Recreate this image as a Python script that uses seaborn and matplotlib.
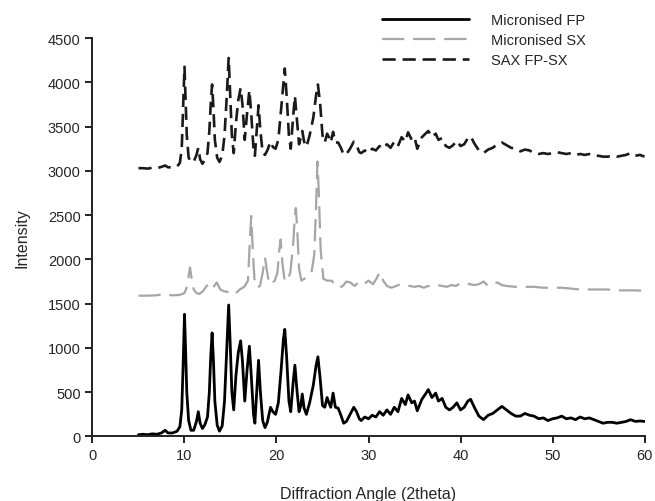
# X-ray diffraction patterns: micronised FP, micronised SX and SAX FP-SX
import seaborn as sns
import matplotlib.pyplot as plt

# 2theta positions shared by the FP and SAX traces
two_theta = [5.0, 5.5, 6.0, 6.5, 7.0, 7.5, 7.9, 8.2, 8.7, 9.2,
             9.5, 9.7, 9.85, 10.0, 10.1, 10.25, 10.45, 10.7, 11.0, 11.3,
             11.5, 11.7, 11.95, 12.2, 12.5, 12.7, 12.85, 13.0, 13.15, 13.3,
             13.55, 13.8, 14.1, 14.35, 14.6, 14.8, 14.95, 15.15, 15.35, 15.6,
             15.85, 16.1, 16.3, 16.55, 16.8, 17.05, 17.25, 17.5, 17.65, 17.85,
             18.05, 18.25, 18.5, 18.75, 19.0, 19.35, 19.6, 19.9, 20.2, 20.5,
             20.75, 20.9, 21.1, 21.35, 21.55, 21.8, 22.0, 22.2, 22.45, 22.65,
             22.8, 23.0, 23.25, 23.6, 24.0, 24.3, 24.5, 24.75, 25.0, 25.25,
             25.5, 25.7, 25.9, 26.15, 26.4, 26.7, 27.0, 27.3, 27.6, 28.0,
             28.4, 28.7, 29.0, 29.2, 29.6, 30.0, 30.4, 30.8, 31.2, 31.6,
             32.0, 32.4, 32.8, 33.2, 33.6, 34.0, 34.3, 34.7, 35.0, 35.3,
             35.8, 36.2, 36.5, 36.9, 37.3, 37.6, 38.0, 38.4, 38.8, 39.2,
             39.6, 40.0, 40.4, 40.8, 41.1, 41.5, 42.0, 42.5, 43.0, 43.5,
             44.0, 44.5, 45.0, 45.5, 46.0, 46.5, 47.0, 47.5, 48.0, 48.5,
             49.0, 49.5, 50.0, 50.5, 51.0, 51.5, 52.0, 52.5, 53.0, 53.5,
             54.0, 54.5, 55.0, 55.5, 56.0, 56.5, 57.0, 57.5, 58.0, 58.5,
             59.0, 59.5, 60.0]

fp_intensity = [20, 25, 20, 30, 25, 40, 70, 40, 40, 60,
                110, 300, 800, 1380, 1050, 500, 180, 70, 70, 170,
                280, 150, 90, 130, 220, 500, 900, 1170, 850, 400,
                130, 60, 120, 400, 1000, 1485, 1100, 500, 300, 700,
                950, 1080, 850, 400, 750, 1020, 700, 250, 150, 500,
                860, 500, 180, 100, 160, 330, 280, 250, 380, 750,
                1100, 1210, 900, 400, 280, 600, 805, 550, 280, 350,
                480, 320, 250, 380, 580, 800, 900, 650, 350, 330,
                440, 380, 330, 490, 330, 320, 240, 150, 170, 250,
                330, 280, 200, 180, 220, 200, 240, 220, 280, 240,
                300, 250, 330, 280, 430, 360, 470, 380, 400, 290,
                420, 480, 530, 440, 490, 400, 430, 330, 300, 330,
                380, 300, 330, 400, 420, 330, 230, 190, 240, 260,
                300, 340, 300, 260, 230, 230, 260, 240, 230, 200,
                210, 180, 200, 210, 230, 200, 210, 190, 220, 200,
                210, 190, 170, 150, 160, 160, 150, 160, 170, 190,
                170, 175, 170]

sax_intensity = [3030, 3030, 3025, 3035, 3030, 3045, 3060, 3040, 3040, 3050,
                 3090, 3250, 3700, 4175, 3850, 3400, 3150, 3100, 3100, 3180,
                 3260, 3130, 3080, 3120, 3200, 3450, 3750, 3975, 3700, 3350,
                 3150, 3100, 3170, 3400, 3850, 4275, 3900, 3400, 3200, 3550,
                 3800, 3935, 3750, 3350, 3650, 3910, 3650, 3250, 3170, 3450,
                 3740, 3450, 3200, 3180, 3230, 3330, 3270, 3250, 3350, 3700,
                 4000, 4155, 3850, 3400, 3250, 3600, 3845, 3600, 3300, 3380,
                 3450, 3330, 3270, 3400, 3600, 3850, 3975, 3750, 3400, 3320,
                 3420, 3380, 3320, 3440, 3320, 3320, 3260, 3180, 3190, 3250,
                 3330, 3290, 3210, 3200, 3230, 3200, 3250, 3230, 3280, 3250,
                 3300, 3260, 3330, 3280, 3380, 3330, 3435, 3350, 3380, 3250,
                 3380, 3420, 3450, 3380, 3420, 3350, 3370, 3280, 3260, 3290,
                 3340, 3280, 3300, 3370, 3390, 3310, 3230, 3200, 3240, 3260,
                 3300, 3320, 3290, 3260, 3250, 3220, 3240, 3230, 3200, 3190,
                 3200, 3190, 3200, 3210, 3200, 3190, 3200, 3180, 3190, 3180,
                 3190, 3170, 3170, 3160, 3160, 3170, 3160, 3170, 3180, 3200,
                 3170, 3180, 3160]

sx_two_theta = [5.0, 6.0, 7.0, 7.5, 8.0, 8.5, 9.0, 9.5, 10.0, 10.3,
                10.5, 10.6, 10.75, 11.0, 11.3, 11.6, 12.0, 12.4, 12.8, 13.1,
                13.5, 13.9, 14.3, 14.8, 15.2, 15.6, 16.0, 16.5, 16.9, 17.1,
                17.25, 17.4, 17.6, 17.9, 18.2, 18.5, 18.75, 18.95, 19.2, 19.5,
                19.8, 20.1, 20.3, 20.45, 20.65, 20.9, 21.2, 21.5, 21.8, 22.0,
                22.1, 22.25, 22.45, 22.7, 23.0, 23.4, 23.8, 24.1, 24.3, 24.45,
                24.6, 24.8, 25.1, 25.5, 26.0, 26.4, 26.8, 27.2, 27.6, 28.0,
                28.5, 29.0, 29.5, 30.0, 30.5, 30.9, 31.2, 31.6, 32.0, 32.5,
                33.0, 33.5, 34.0, 34.5, 35.0, 35.5, 36.0, 36.5, 37.0, 37.5,
                38.0, 38.5, 39.0, 39.5, 40.0, 40.5, 41.0, 41.5, 42.0, 42.5,
                43.0, 43.5, 44.0, 44.5, 45.0, 46.0, 47.0, 48.0, 49.0, 50.0,
                51.0, 52.0, 53.0, 54.0, 55.0, 56.0, 57.0, 58.0, 59.0, 60.0]

sx_intensity = [1590, 1590, 1595, 1605, 1610, 1595, 1595, 1600, 1620, 1700,
                1850, 1910, 1800, 1660, 1620, 1610, 1640, 1700, 1730, 1680,
                1740, 1660, 1640, 1630, 1650, 1620, 1660, 1690, 1760, 2200,
                2490, 2150, 1780, 1680, 1700, 1850, 2020, 1880, 1720, 1730,
                1760, 1850, 2100, 2225, 1950, 1750, 1770, 1850, 2150, 2500,
                2580, 2350, 1900, 1760, 1780, 1800, 1850, 2050, 2600, 3105,
                2750, 2100, 1780, 1760, 1760, 1700, 1680, 1700, 1750, 1740,
                1700, 1750, 1720, 1760, 1720, 1790, 1855, 1760, 1700, 1680,
                1700, 1720, 1710, 1700, 1690, 1700, 1680, 1700, 1690, 1710,
                1700, 1690, 1710, 1700, 1730, 1740, 1720, 1710, 1720, 1750,
                1700, 1720, 1740, 1710, 1700, 1690, 1690, 1690, 1680, 1680,
                1680, 1670, 1660, 1660, 1660, 1660, 1650, 1650, 1650, 1645]

sns.set_style("ticks")
plt.rcParams['font.family'] = ['Liberation Sans', 'DejaVu Sans']

fig = plt.figure(figsize=(6.55, 5.02), dpi=100)
ax = fig.add_axes([0.1412, 0.1285, 0.8428, 0.7938])

sns.lineplot(x=two_theta, y=fp_intensity, ax=ax, sort=False, color='black',
             linewidth=2.0, label='Micronised FP')
sns.lineplot(x=sx_two_theta, y=sx_intensity, ax=ax, sort=False, color='#a6a6a6',
             linewidth=1.6, linestyle=(0, (10, 4)), label='Micronised SX')
sns.lineplot(x=two_theta, y=sax_intensity, ax=ax, sort=False, color='#1a1a1a',
             linewidth=1.9, linestyle=(0, (5, 2.6)), label='SAX FP-SX')

ax.set_xlim(0, 60)
ax.set_ylim(0, 4500)
ax.set_xticks(range(0, 61, 10))
ax.set_yticks(range(0, 4501, 500))
ax.tick_params(labelsize=10.5, width=1.4, length=5, direction='out', color='#222222')
for side in ['left', 'bottom']:
    ax.spines[side].set_linewidth(1.4)
    ax.spines[side].set_color('#222222')
sns.despine(ax=ax)

ax.set_xlabel('Diffraction Angle (2theta)', fontsize=11.5, labelpad=17)
ax.set_ylabel('Intensity', fontsize=11.5, labelpad=13)

ax.legend(loc='upper left', bbox_to_anchor=(0.583, 0.972), bbox_transform=fig.transFigure,
          frameon=False, fontsize=10.5, handlelength=6.0, handletextpad=1.5,
          labelspacing=0.4, borderpad=0, borderaxespad=0)

fig.savefig('out.png', dpi=100)
